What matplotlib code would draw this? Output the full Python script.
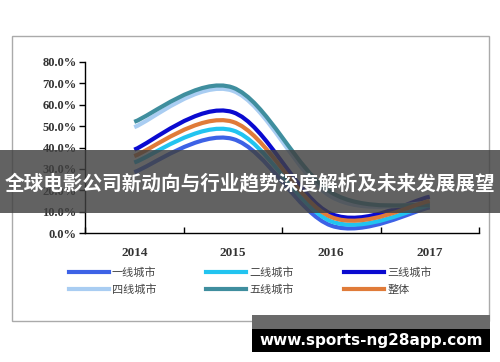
import numpy as np
import matplotlib.pyplot as plt
from matplotlib.path import Path
from matplotlib.patches import PathPatch, Rectangle

plt.rcParams['font.family'] = ['Noto Sans CJK SC', 'DejaVu Sans']

years = ['2014', '2015', '2016', '2017']
tier1 = [28.5, 44.0, 3.5, 12.0]
tier2 = [33.0, 48.0, 5.5, 13.0]
tier3 = [39.0, 56.5, 9.0, 17.0]
tier4 = [49.5, 66.5, 17.0, 14.0]
tier5 = [52.0, 68.0, 19.0, 13.0]
overall = [36.0, 52.0, 7.5, 15.0]

series = [
    ('一线城市', tier1, '#3d62e6'),
    ('二线城市', tier2, '#22c4f0'),
    ('三线城市', tier3, '#0a0ad0'),
    ('四线城市', tier4, '#a9cdf2'),
    ('五线城市', tier5, '#3f8e9e'),
    ('整体', overall, '#e07b39'),
]


def smooth_path(xs, ys):
    # excel-style smoothed line: catmull-rom turned into bezier segments
    pts = list(zip(xs, ys))
    verts = [pts[0]]
    codes = [Path.MOVETO]
    n = len(pts)
    for i in range(n - 1):
        p0 = pts[i - 1] if i > 0 else pts[i]
        p1, p2 = pts[i], pts[i + 1]
        p3 = pts[i + 2] if i + 2 < n else pts[i + 1]
        c1 = (p1[0] + (p2[0] - p0[0]) / 6, p1[1] + (p2[1] - p0[1]) / 6)
        c2 = (p2[0] - (p3[0] - p1[0]) / 6, p2[1] - (p3[1] - p1[1]) / 6)
        verts += [c1, c2, p2]
        codes += [Path.CURVE4] * 3
    return Path(verts, codes)


fig = plt.figure(figsize=(5, 3.62), dpi=100)
ax = fig.add_axes([0.17, 0.356, 0.788, 0.473])

x = np.arange(len(years))
handles = {}
for name, vals, col in series:
    ax.add_patch(PathPatch(smooth_path(x, [v / 100 for v in vals]), fill=False,
                           edgecolor=col, lw=3, capstyle='butt'))
    handles[name], = ax.plot([], [], color=col, lw=3, label=name)

ax.set_xlim(-0.5, 3.5)
ax.set_ylim(0, 0.8)
ax.set_yticks(np.arange(0, 0.81, 0.1))
ax.set_yticklabels(['%.1f%%' % (v * 100) for v in np.arange(0, 0.81, 0.1)],
                   family='Liberation Serif', fontweight='bold', fontsize=9, color='#333333')
ax.set_xticks(x)
ax.set_xticklabels(years, family='Liberation Serif', fontweight='bold', fontsize=9.5, color='#333333')
ax.set_xticks([-0.5, 0.5, 1.5, 2.5, 3.5], minor=True)
ax.tick_params(axis='x', which='major', length=0, pad=10)
ax.tick_params(axis='x', which='minor', length=4, direction='in', width=1)
ax.tick_params(axis='y', length=4, direction='out', width=1, pad=2)
for s in ['top', 'right']:
    ax.spines[s].set_visible(False)
for s in ['left', 'bottom']:
    ax.spines[s].set_color('black')
    ax.spines[s].set_linewidth(1)

# legend filled row by row like the source
order = ['一线城市', '四线城市', '二线城市', '五线城市', '三线城市', '整体']
fig.legend([handles[k] for k in order], order, loc='upper left',
           bbox_to_anchor=(0.117, 0.29), ncol=3, frameon=False,
           fontsize=8, handlelength=3.6, columnspacing=4.5, handletextpad=0.3,
           labelspacing=0.6, labelcolor='#444444')

# frame around the chart
fig.patches.append(Rectangle((12 / 500, 1 - 321 / 362), 477 / 500, 285 / 362,
                             transform=fig.transFigure, fill=False,
                             edgecolor='#aaaaaa', lw=1))

# title banner over the chart
fig.patches.append(Rectangle((0, 1 - 213 / 362), 1, 63 / 362, transform=fig.transFigure,
                             facecolor='#404040', alpha=0.82, zorder=10))
fig.text(0.5, 1 - 184 / 362, '全球电影公司新动向与行业趋势深度解析及未来发展展望',
         ha='center', va='center', color='white', fontsize=14.1, fontweight='bold', zorder=11)

# site mark
fig.patches.append(Rectangle((252 / 500, 1 - 329 / 362), 238 / 500, 14 / 362,
                             transform=fig.transFigure, facecolor='#6a6a6a', zorder=10))
fig.patches.append(Rectangle((252 / 500, 1 - 352 / 362), 238 / 500, 23 / 362,
                             transform=fig.transFigure, facecolor='black', zorder=10))
fig.text(371 / 500, 1 - 340 / 362, 'www.sports-ng28app.com', ha='center', va='center',
         color='white', fontsize=11, fontweight='bold', family='DejaVu Sans', zorder=11)

fig.savefig('out.png', dpi=100)
